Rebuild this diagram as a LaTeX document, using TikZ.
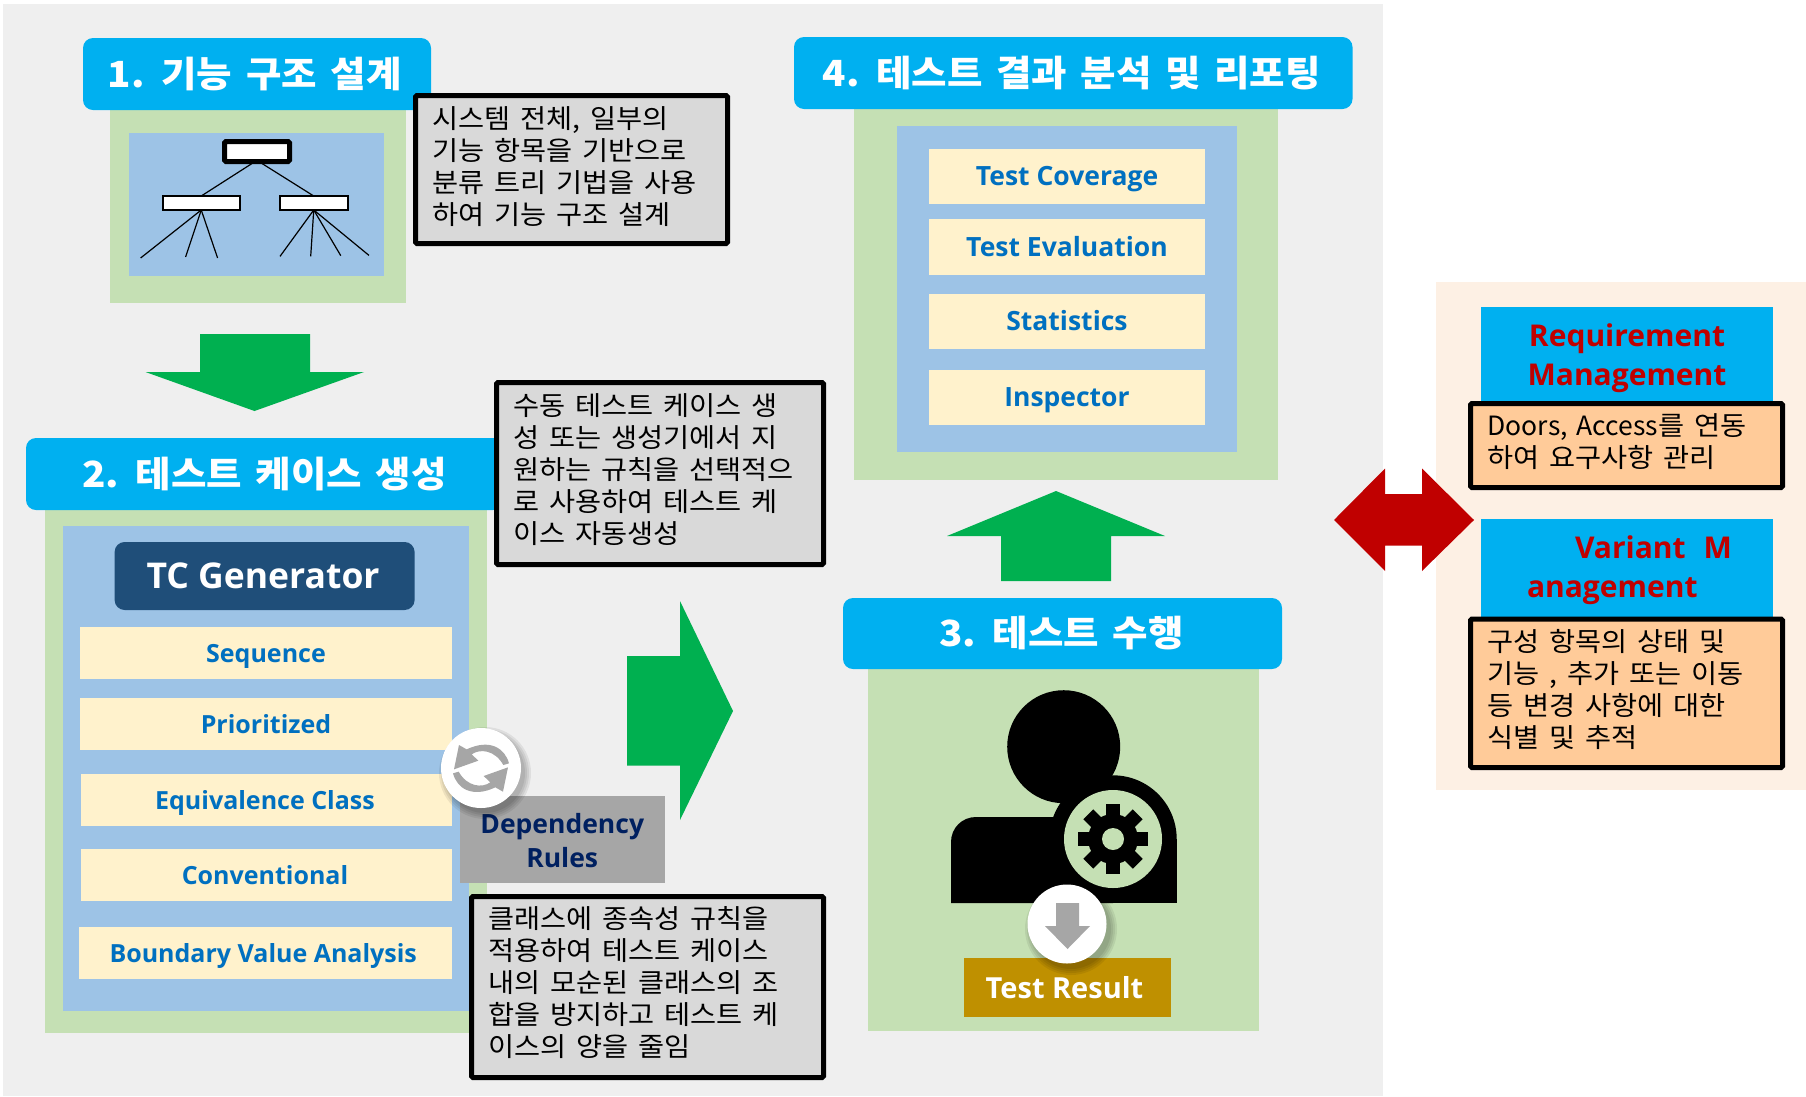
\documentclass[tikz,border=0pt]{standalone}
\usepackage{fontspec}
\setmainfont{Noto Sans CJK KR}[FakeStretch=1.07,WordSpace=1.55]
\newfontfamily\plain{Noto Sans CJK KR}[WordSpace=1.5]
\newfontfamily\en{Open Sans}
\definecolor{bggrey}{HTML}{EFEFEF}
\definecolor{panelgreen}{HTML}{C5E0B4}
\definecolor{panelblue}{HTML}{9DC3E6}
\definecolor{headcyan}{HTML}{00B0F0}
\definecolor{arrowgreen}{HTML}{00B050}
\definecolor{tcdark}{HTML}{1F4E79}
\definecolor{cream}{HTML}{FFF2CC}
\definecolor{itemblue}{HTML}{0070C0}
\definecolor{gold}{HTML}{BF9000}
\definecolor{notegrey}{HTML}{D9D9D9}
\definecolor{iconc}{HTML}{A6A6A6}
\definecolor{navy}{HTML}{002060}
\definecolor{darkred}{HTML}{C00000}
\definecolor{peach}{HTML}{FFCB99}
\definecolor{sidepanel}{HTML}{FDF0E4}
% a stack of lines with a fixed line distance in a box of fixed size
\newcommand\stacked[5]{\parbox[c][#2pt][t]{#1pt}{\baselineskip=#3pt\lineskiplimit=-100pt\vspace*{#4pt}\hbox to #1pt{}#5}}
\newcommand\nl[1]{\hbox{\hskip 17pt #1}}
\newcommand\cl[2]{\hbox to #1pt{\hss #2\hss}}
\tikzset{
  base/.style={anchor=north west,inner sep=0pt,outer sep=0pt},
  headbox/.style={base,fill=headcyan,rounded corners=10pt,text=white,
    font=\fontsize{36}{40}\selectfont\bfseries},
  greenpanel/.style={base,fill=panelgreen},
  bluepanel/.style={base,fill=panelblue},
  itembox/.style={base,fill=cream,text=itemblue,text height=25pt,text depth=7pt,
    font=\en\fontsize{25}{30}\selectfont\bfseries},
  bigitem/.style={itembox,font=\en\fontsize{26.5}{30}\selectfont\bfseries},
  notebox/.style={base,draw=black,line width=5pt,rounded corners=1.5pt,fill=notegrey,
    font=\fontsize{26.5}{32}\selectfont},
  sidenote/.style={notebox,fill=peach},
  sidehead/.style={base,fill=headcyan,text=darkred,font=\en\fontsize{30}{39}\selectfont\bfseries},
  treebox/.style={base,draw=black,fill=white},
  treeline/.style={draw=black,line width=1.2pt},
  blockarrow/.style={fill=arrowgreen},
  whitedisc/.style={circle,fill=white,inner sep=0pt,outer sep=0pt},
  shade1/.style={fill=black,opacity=.07},
}
\begin{document}
\begin{tikzpicture}[x=1pt,y=-1pt]
\useasboundingbox (0,0) rectangle (1806,1096);
\fill[white] (0,0) rectangle (1806,1096);
\fill[bggrey] (3,4) rectangle (1383,1096);

% --- panel 1
\node[greenpanel,minimum width=296pt,minimum height=194pt] (p1) at (110,109) {};
\node[headbox,minimum width=348pt,minimum height=72pt] (h1) at (83,38) {1. 기능 구조 설계\kern 4.5pt};
\node[bluepanel,minimum width=255pt,minimum height=143pt] (b1) at (129,133) {};
\node[treebox,line width=5pt,rounded corners=1.5pt,minimum width=65pt,minimum height=20pt] (tt) at (224.5,141.5) {};
\node[treebox,line width=2pt,minimum width=77.5pt,minimum height=14pt] (tl) at (162.5,196) {};
\node[treebox,line width=2pt,minimum width=67.5pt,minimum height=14pt] (tr) at (280,196) {};
\coordinate (la) at (140.6,258);
\coordinate (lb) at (185.6,257);
\coordinate (lc) at (217.6,258);
\coordinate (ra) at (280,256.4);
\coordinate (rb) at (310.7,256.4);
\coordinate (rc) at (340.8,255.7);
\coordinate (rd) at (369,255.4);
\draw[treeline] ([xshift=-5pt,yshift=-2pt]tt.south) -- (tl.north);
\draw[treeline] ([xshift=5pt,yshift=-2pt]tt.south) -- (tr.north);
\draw[treeline] (tl.south) -- (la);
\draw[treeline] (tl.south) -- (lb);
\draw[treeline] (tl.south) -- (lc);
\draw[treeline] (tr.south) -- (ra);
\draw[treeline] (tr.south) -- (rb);
\draw[treeline] (tr.south) -- (rc);
\draw[treeline] (tr.south) -- (rd);
\node[notebox] (n1) at (415.5,95.5) {\stacked{312}{148}{32}{0.5}{%
  \nl{시스템 전체, 일부의}\nl{기능 항목을 기반으로}\nl{분류 트리 기법을 사용}\nl{하여 기능 구조 설계}}};

% --- arrow 1 to 2
\fill[blockarrow] (200,334) -- (310,334) -- (310,372) -- (364,372) -- (254.5,411) -- (145.5,372) -- (200,372) -- cycle;

% --- panel 2
\node[greenpanel,minimum width=442pt,minimum height=523pt] (p2) at (45,510) {};
\node[headbox,minimum width=477pt,minimum height=72pt] (h2) at (26,438) {2. 테스트 케이스 생성};
\node[bluepanel,minimum width=406pt,minimum height=485pt] (b2) at (63,526) {};
\node[base,fill=tcdark,rounded corners=10pt,text=white,minimum width=300pt,minimum height=68pt,
  font=\en\fontsize{35.5}{40}\selectfont\bfseries] (tc) at (114.6,542) {\raisebox{-1pt}{TC Generator}\kern 3pt};
\node[itembox,minimum width=372pt,minimum height=52pt] (i1) at (80,627) {Sequence};
\node[itembox,minimum width=372pt,minimum height=52pt] (i2) at (80,698) {Prioritized};
\node[itembox,minimum width=371pt,minimum height=52pt] (i3) at (81,774) {Equivalence Class\kern 3pt};
\node[itembox,minimum width=371pt,minimum height=52pt] (i4) at (81,849) {Conventional\kern 3pt};
\node[itembox,minimum width=373pt,minimum height=52pt] (i5) at (79,927) {Boundary Value Analysis\kern 4.5pt};
\node[notebox] (n2) at (496.5,382.5) {\stacked{327}{182}{32}{0.5}{%
  \nl{수동 테스트 케이스 생}\nl{성 또는 생성기에서 지}\nl{원하는 규칙을 선택적으}\nl{로 사용하여 테스트 케}\nl{이스 자동생성}}};
\node[base,fill=iconc,text=navy,font=\en\fontsize{26.5}{33}\selectfont\bfseries] (dep) at (459.5,796)
  {\stacked{205.5}{87}{34}{3}{\cl{205.5}{Dependency}\cl{205.5}{Rules}}};
\node[notebox] (n3) at (471.5,896.5) {\stacked{352}{181}{32}{0}{%
  \nl{클래스에 종속성 규칙을}\nl{적용하여 테스트 케이스}\nl{내의 모순된 클래스의 조}\nl{합을 방지하고 테스트 케}\nl{이스의 양을 줄임}}};
% refresh disc
\foreach \r in {46,44,42,40}{\fill[shade1] (485,773) circle (\r pt);}
\node[whitedisc,minimum size=80pt] (refresh) at (481,768) {};
\begin{scope}[shift={(430,720)},x=0.3333pt,y=-0.3333pt]
  \foreach \a in {0,180}{
    \fill[iconc,rotate around={\a:(153,145)}] (87,75) -- (72,148) -- (145,122) -- (125,103)
      .. controls (150,85) and (195,90) .. (220,135) -- (237,130)
      .. controls (225,85) and (180,55) .. (110,88) -- cycle;
  }
\end{scope}

% --- arrow 2 to 3
\fill[blockarrow] (627,656) -- (680,656) -- (680,601) -- (733,711) -- (680,820) -- (680,765.5) -- (627,765.5) -- cycle;

% --- panel 3
\node[greenpanel,minimum width=391pt,minimum height=362pt] (p3) at (868,669) {};
\node[headbox,minimum width=439pt,minimum height=71pt] (h3) at (843,598) {3. 테스트 수행\kern 2pt};
% person icon
\fill[black] (1063.7,746.7) circle (56.5pt);
\fill[black] (951,903) -- (951,842) .. controls (951,828) and (962,817) .. (976,817) -- (1113,817) -- (1113,903) -- cycle;
\fill[black] (1113,839) circle (63.7pt);
\fill[black] (1113,839) rectangle (1177,903);
\fill[panelgreen] (1113,839) circle (49pt);
\foreach \a in {0,45,...,315}{
  \fill[black,rotate around={\a:(1113,839)}] (1106,804) rectangle (1120,822);
}
\fill[black] (1113,839) circle (25pt);
\fill[panelgreen] (1113,839) circle (11pt);
\node[base,fill=gold,text=white,minimum width=207pt,minimum height=59pt,
  font=\en\fontsize{29}{32}\selectfont\bfseries] (res) at (964,958) {Test Result\kern 6pt};
% down disc
\foreach \r in {46,44,42,40}{\fill[shade1] (1071,929) circle (\r pt);}
\node[whitedisc,minimum size=79pt] (down) at (1067,924) {};
\fill[iconc] (1056,903) -- (1079,903) -- (1079,926) -- (1090,926) -- (1067.5,949) -- (1045,926) -- (1056,926) -- cycle;

% --- arrow 3 to 4
\fill[blockarrow] (1001,581) -- (1001,536) -- (947,536) -- (1056,491) -- (1165,536) -- (1111,536) -- (1111,581) -- cycle;

% --- panel 4
\node[greenpanel,minimum width=424pt,minimum height=371pt] (p4) at (854,109) {};
\node[headbox,minimum width=558.5pt,minimum height=72pt] (h4) at (794,37) {4. 테스트 결과 분석 및 리포팅\kern 3pt};
\node[bluepanel,minimum width=340pt,minimum height=326pt] (b4) at (897,126) {};
\node[bigitem,minimum width=276pt,minimum height=55pt] (j1) at (929,149) {Test Coverage};
\node[bigitem,minimum width=276pt,minimum height=56pt] (j2) at (929,219) {Test Evaluation};
\node[bigitem,minimum width=276pt,minimum height=55pt] (j3) at (929,294) {Statistics};
\node[bigitem,minimum width=276pt,minimum height=55pt] (j4) at (929,370) {Inspector};

% --- side panel
\node[base,fill=sidepanel,minimum width=370pt,minimum height=508pt] (side) at (1436,282) {};
\node[sidehead] (rm) at (1481,307) {\stacked{292}{96}{39}{0}{\cl{292}{Requirement}\cl{292}{Management}}};
\node[sidenote] (rmn) at (1470.5,403.5) {\stacked{312}{84}{32}{0}{%
  \nl{{\plain Doors, Access}를 연동}\nl{하여 요구사항 관리}}};
\node[sidehead] (vm) at (1481,519) {\stacked{292}{99}{39}{0}{%
  \hbox{\hskip 94pt Variant\hskip 18pt M}\hbox{\hskip 46pt anagement}}};
\node[sidenote] (vmn) at (1470.5,619) {\stacked{312}{148.5}{32}{0}{%
  \nl{구성 항목의 상태 및}\nl{기능 , 추가 또는 이동}\nl{등 변경 사항에 대한}\nl{식별 및 추적}}};
% double arrow
\fill[darkred] (1334,520) -- (1385,468.5) -- (1385,494) -- (1422,494) -- (1422,468.5) -- (1474,520)
  -- (1422,571) -- (1422,545.5) -- (1385,545.5) -- (1385,571) -- cycle;
\end{tikzpicture}
\end{document}
